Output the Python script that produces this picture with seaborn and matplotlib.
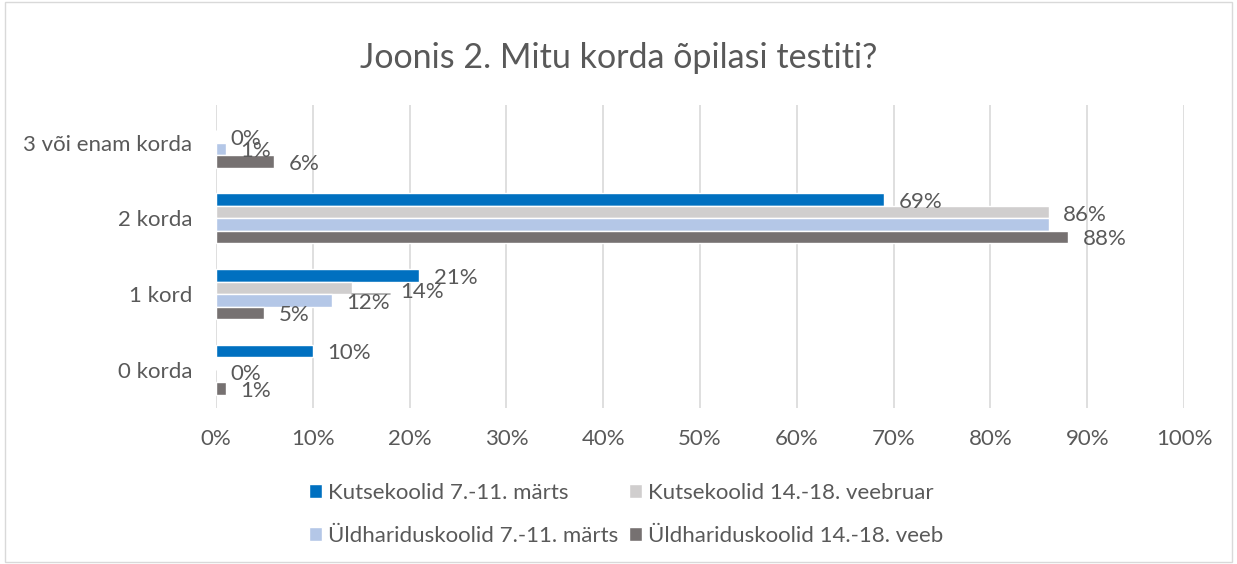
import numpy as np
import pandas as pd
import matplotlib.pyplot as plt
import seaborn as sns

categories = ["3 või enam korda", "2 korda", "1 kord", "0 korda"]
series = [
    "Kutsekoolid 7.-11. märts",
    "Kutsekoolid 14.-18. veebruar",
    "Üldhariduskoolid 7.-11. märts",
    "Üldhariduskoolid 14.-18. veeb",
]
kutse_mar = [np.nan, 69, 21, 10]
kutse_veeb = [0, 86, 14, 0]
yld_mar = [1, 86, 12, np.nan]
yld_veeb = [6, 88, 5, 1]
colors = ["#0070C0", "#D0CECE", "#B4C7E7", "#767171"]

# labels Excel hid / moved by hand: (series index, category index)
hidden_labels = {(2, 1)}
label_nudge = {(1, 2): (3.5, 0.02), (1, 3): (0.0, 0.1)}

df = pd.DataFrame({
    "kategooria": categories * 4,
    "grupp": np.repeat(series, 4),
    "osakaal": kutse_mar + kutse_veeb + yld_mar + yld_veeb,
})

sns.set_theme(style="white")
plt.rcParams["font.family"] = ["Lato", "DejaVu Sans"]
text_col = "#595959"
fs = 16

fig = plt.figure(figsize=(12.37, 5.64), dpi=100)
ax = fig.add_axes([0.1746, 0.277, 0.7826, 0.537])

sns.barplot(
    data=df.dropna(),
    x="osakaal",
    y="kategooria",
    hue="grupp",
    order=categories,
    hue_order=series,
    palette=colors,
    width=0.66,
    saturation=1,
    orient="h",
    legend=True,
    ax=ax,
)

n = len(series)
w = 0.66 / n
for si, vals in enumerate([kutse_mar, kutse_veeb, yld_mar, yld_veeb]):
    for ci, v in enumerate(vals):
        if np.isnan(v) or (si, ci) in hidden_labels:
            continue
        yc = ci - 0.33 + w * (si + 0.5)
        dx, dy = label_nudge.get((si, ci), (0.0, 0.0))
        if (si, ci) == (1, 2):
            ax.plot([v, v + 4], [yc + w * 0.45, yc + w * 0.45], color="#A6A6A6", lw=1.2, zorder=3)
        ax.text(v + 1.5 + dx, yc + dy + 0.03, f"{v:.0f}%", ha="left", va="center",
                fontsize=fs, color=text_col)

ax.set_xlim(0, 100)
ax.set_ylim(3.5, -0.5)
ax.set_xticks(np.arange(0, 101, 10))
ax.set_xticklabels([f"{t}%" for t in range(0, 101, 10)])
ax.set(xlabel="", ylabel="")
ax.grid(axis="x", color="#D9D9D9", lw=1.2)
ax.set_axisbelow(True)
for s in ["top", "right", "bottom", "left"]:
    ax.spines[s].set_visible(False)
ax.tick_params(axis="both", length=0, labelsize=fs, colors=text_col)
ax.tick_params(axis="y", pad=17)
ax.tick_params(axis="x", pad=15)

fig.suptitle("Joonis 2. Mitu korda õpilasi testiti?", y=0.925, fontsize=24.5, color=text_col)

handles, labels = ax.get_legend_handles_labels()
ax.get_legend().remove()
# row-major order like Excel: fill rows, matplotlib fills columns
order = [0, 2, 1, 3]
fig.legend(
    [handles[i] for i in order], [labels[i] for i in order],
    loc="center", bbox_to_anchor=(0.506, 0.088), ncol=2,
    frameon=False, fontsize=fs, labelcolor=text_col,
    handlelength=0.6, handleheight=0.6, handletextpad=0.25,
    columnspacing=0.5, labelspacing=1.05,
)

fig.patches.append(plt.Rectangle((0.004, 0.004), 0.992, 0.992, transform=fig.transFigure,
                                 fill=False, edgecolor="#D9D9D9", lw=1))

fig.savefig("out.png", dpi=100)
